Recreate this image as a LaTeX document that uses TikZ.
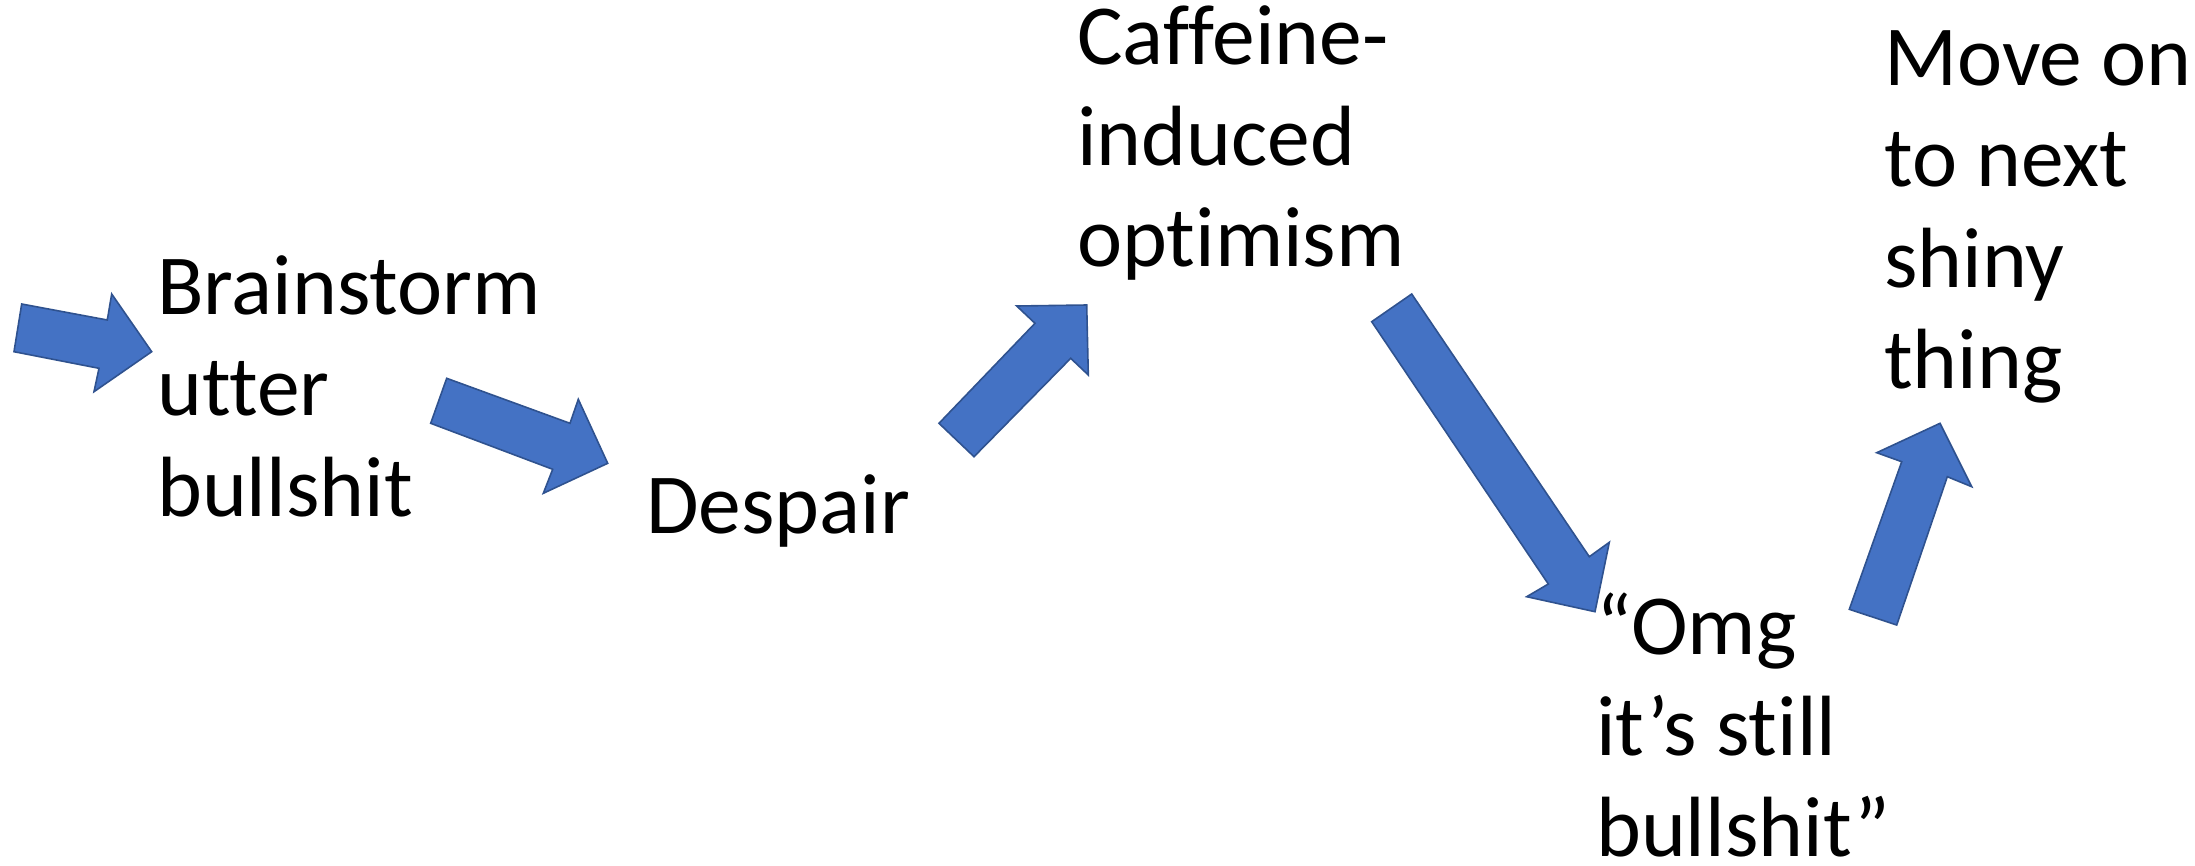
\documentclass[tikz,border=0pt]{standalone}
\usepackage{fontspec}
\setmainfont[Ligatures=NoCommon]{Carlito}
\begin{document}
\begin{tikzpicture}[x=1pt,y=-1pt,
  label text/.style={anchor=base west, inner sep=0pt, align=left,
    font=\fontsize{85.5}{101}\selectfont},
  block arrow/.style={fill=blockfill, draw=blockedge, line width=1.6pt, line join=miter}]
\definecolor{blockfill}{HTML}{4472C4}
\definecolor{blockedge}{HTML}{2F528F}
\useasboundingbox (0,0) rectangle (2195,865);

% stage labels (each placed by the baseline of its last line)
\node[label text] (brainstorm) at (157,516.7) {Brainstorm\\utter\\bullshit};
\node[label text] (despair) at (646,533.3) {Despair};
\node[label text] (caffeine) at (1077,266.7) {Caffeine-\\induced\\optimism};
\node[label text] (omg) at (1596,856.7) {“Omg\\it’s still\\bullshit”};
\node[label text] (moveon) at (1884,388.3) {Move on\\to next\\shiny\\thing};

% block arrows between the stages
\draw[block arrow] (21.7,304) -- (107.3,320) -- (111.7,294) -- (151.7,351.7)
  -- (94,391.7) -- (99,368.3) -- (14,351.7) -- cycle;
\draw[block arrow] (446.7,378.3) -- (570,423.3) -- (578.3,399.3) -- (607.7,463.3)
  -- (543.3,493.3) -- (552.7,469.3) -- (430.7,423.3) -- cycle;
\draw[block arrow] (939,423.3) -- (1035,323.3) -- (1016.7,306) -- (1086.7,305)
  -- (1088.3,375) -- (1070.7,358.3) -- (974,456.7) -- cycle;
\draw[block arrow] (1371.7,321.7) -- (1411.7,294) -- (1589.3,556.7) -- (1609.3,542.3)
  -- (1595,611.7) -- (1526.7,596.7) -- (1548.3,584) -- cycle;
\draw[block arrow] (1849.3,609.3) -- (1901.7,461.7) -- (1876.7,452.7) -- (1940,423.3)
  -- (1971.7,486.7) -- (1947.3,476.7) -- (1896.7,625) -- cycle;
\end{tikzpicture}
\end{document}
